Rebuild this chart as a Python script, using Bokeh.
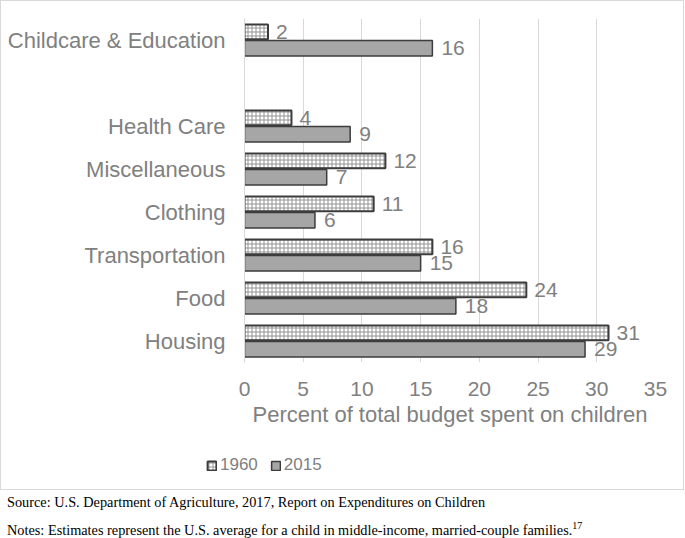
from bokeh.plotting import figure
from bokeh.models import ColumnDataSource, Legend, LegendItem, Div, FactorRange, FixedTicker, Range1d
from bokeh.transform import dodge
from bokeh.layouts import column
from bokeh.embed import file_html
from bokeh.resources import INLINE
from bokeh.core.properties import value

# ---- data ----
categories = ["Housing", "Food", "Transportation", "Clothing", "Miscellaneous", "Health Care", "Childcare & Education"]
axis_factors = ["Housing", "Food", "Transportation", "Clothing", "Miscellaneous", "Health Care", " ", "Childcare & Education"]
values_1960 = [31, 24, 16, 11, 12, 4, 2]
values_2015 = [29, 18, 15, 6, 7, 9, 16]
x_ticks = [0, 5, 10, 15, 20, 25, 30, 35]
series_names = ["1960", "2015"]

GRAY = "#808080"
OUTLINE = "#3c3c3c"
FONT = "Liberation Sans"

style_1960 = dict(fill_color="white", hatch_pattern="+", hatch_color="#8a8a8a", hatch_scale=4,
                  hatch_weight=0.9, line_color=OUTLINE, line_width=2)
style_2015 = dict(fill_color="#a6a6a6", line_color=OUTLINE, line_width=1.5)

src = ColumnDataSource(dict(
    cat=categories,
    v1960=values_1960,
    v2015=values_2015,
    l1960=[str(v) for v in values_1960],
    l2015=[str(v) for v in values_2015],
))

p = figure(
    y_range=FactorRange(factors=axis_factors, range_padding=0),
    x_range=(0, 35),
    frame_width=411, frame_height=344,
    min_border_left=243, min_border_right=28, min_border_top=17, min_border_bottom=70,
    output_backend="svg", toolbar_location=None,
)
p.outline_line_color = None

p.hbar(y=dodge("cat", 0.19, range=p.y_range), right="v1960", left=0, height=0.34, source=src, **style_1960)
p.hbar(y=dodge("cat", -0.19, range=p.y_range), right="v2015", left=0, height=0.36, source=src, **style_2015)

p.text(x="v1960", y=dodge("cat", 0.19, range=p.y_range), text="l1960", source=src, x_offset=8,
       text_baseline="middle", text_font=value(FONT), text_font_size="21px", text_color=GRAY)
p.text(x="v2015", y=dodge("cat", -0.19, range=p.y_range), text="l2015", source=src, x_offset=9,
       text_baseline="middle", text_font=value(FONT), text_font_size="21px", text_color=GRAY)

# axes
p.xaxis.ticker = FixedTicker(ticks=x_ticks)
p.xaxis.axis_line_color = None
p.xaxis.major_tick_line_color = None
p.xaxis.minor_tick_line_color = None
p.xaxis.major_label_text_font = FONT
p.xaxis.major_label_text_font_size = "21px"
p.xaxis.major_label_text_color = GRAY
p.xaxis.major_label_standoff = 13
p.xaxis.axis_label = "Percent of total budget spent on children"
p.xaxis.axis_label_text_font = FONT
p.xaxis.axis_label_text_font_size = "22px"
p.xaxis.axis_label_text_font_style = "normal"
p.xaxis.axis_label_text_color = GRAY
p.xaxis.axis_label_standoff = 3

p.yaxis.axis_line_color = "#d9d9d9"
p.yaxis.major_tick_line_color = None
p.yaxis.minor_tick_line_color = None
p.yaxis.major_label_text_font = FONT
p.yaxis.major_label_text_font_size = "22px"
p.yaxis.major_label_text_color = GRAY
p.yaxis.major_label_standoff = 13

p.ygrid.grid_line_color = None
p.xgrid.grid_line_color = "#d9d9d9"
p.xgrid.grid_line_width = 1

# legend strip: a small figure whose renderers share the data but map to no visible factor
lf = figure(width=682, height=57, x_range=Range1d(0, 35), y_range=FactorRange(factors=["legend"]),
            min_border=0, output_backend="svg", toolbar_location=None)
lf.axis.visible = False
lf.grid.visible = False
lf.outline_line_color = None
lr1 = lf.hbar(y="cat", right="v1960", left=0, height=0.3, source=src, **style_1960)
lr2 = lf.hbar(y="cat", right="v2015", left=0, height=0.3, source=src, **style_2015)
legend = Legend(
    items=[LegendItem(label=series_names[0], renderers=[lr1]), LegendItem(label=series_names[1], renderers=[lr2])],
    orientation="horizontal", location=(205, 14),
    glyph_width=11, glyph_height=11, label_standoff=3, spacing=12,
    label_text_font=FONT, label_text_font_size="17px", label_text_color=GRAY,
    border_line_color=None, background_fill_alpha=0, padding=2, margin=0, label_height=20,
)
lf.add_layout(legend, "center")

box = column(p, column(lf), spacing=0, styles={"border": "1px solid #d9d9d9"})

footer = Div(
    text=("<div style='font-family:\"Liberation Serif\"; font-size:14.3px; color:#000; line-height:23px; padding-left:2px;'>"
          "Source: U.S. Department of Agriculture, 2017, Report on Expenditures on Children<br>"
          "Notes: Estimates represent the U.S. average for a child in middle-income, married-couple families.<sup style='font-size:10px'>17</sup>"
          "</div>"),
    width=684, height=42, styles={"margin-top": "1px"},
)

layout = column(box, footer, spacing=0)
open("out.html", "w").write(file_html(layout, INLINE))
